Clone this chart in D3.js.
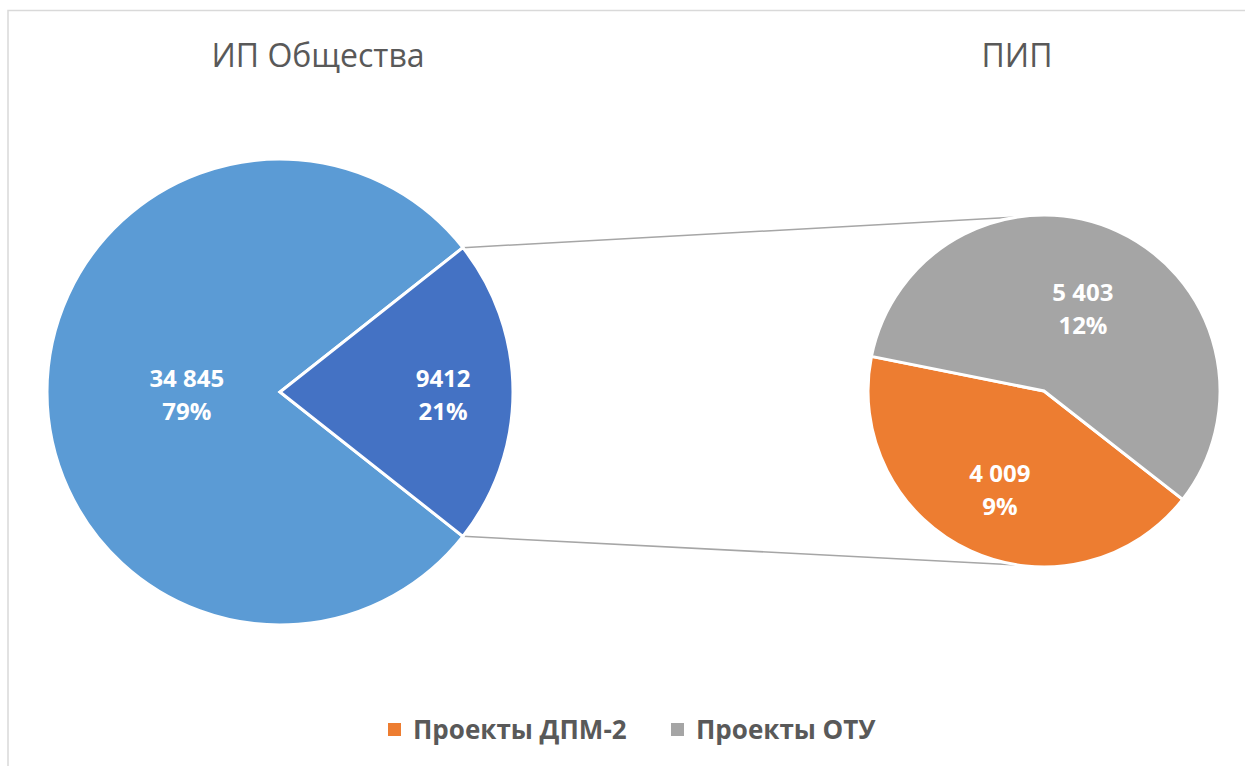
<!DOCTYPE html>
<html>
<head>
<meta charset="utf-8">
<script src="https://cdn.jsdelivr.net/npm/d3@7"></script>
<style>
  body { margin: 0; background: #fff; }
  svg { display: block; font-family: "Open Sans", sans-serif; }
</style>
</head>
<body>
<div id="chart"></div>
<script>
// main pie: other investments vs the part broken out into the second pie
var mainLabels = ["ИП Общества (прочее)", "ПИП"];
var mainValues = [34845, 9412];
var mainText = ["34 845", "9412"];
var mainPct = ["79%", "21%"];
var mainColors = ["#5B9BD5", "#4472C4"];

// second pie
var subLabels = ["Проекты ДПМ-2", "Проекты ОТУ"];
var subValues = [4009, 5403];
var subText = ["4 009", "5 403"];
var subPct = ["9%", "12%"];
var subColors = ["#ED7D31", "#A5A5A5"];

var titles = ["ИП Общества", "ПИП"];

var width = 1245, height = 766;
var deg = Math.PI / 180;

var svg = d3.select("#chart").append("svg")
  .attr("width", width)
  .attr("height", height);

// chart frame (right and bottom edges fall outside the picture)
svg.append("rect")
  .attr("x", 8).attr("y", 10.5)
  .attr("width", width + 10).attr("height", height + 10)
  .attr("fill", "none")
  .attr("stroke", "#d9d9d9")
  .attr("stroke-width", 1.5);

var left = { cx: 280, cy: 392, r: 233 };
var right = { cx: 1044, cy: 391, r: 176 };

// the broken-out slice is centred on the right side
var mainTotal = d3.sum(mainValues);
var smallSpan = mainValues[1] / mainTotal * 2 * Math.PI;
var mainPie = d3.pie().sort(null)
  .startAngle(Math.PI / 2 + smallSpan / 2)
  .endAngle(Math.PI / 2 + smallSpan / 2 + 2 * Math.PI);

var subPie = d3.pie().sort(null)
  .startAngle(128 * deg)
  .endAngle(128 * deg + 2 * Math.PI);

function drawPie(values, colors, texts, pcts, geo, labelFrac, pie) {
  var g = svg.append("g")
    .attr("transform", "translate(" + geo.cx + "," + geo.cy + ")");
  var arc = d3.arc().innerRadius(0).outerRadius(geo.r);
  var arcs = pie(values);

  g.selectAll("path")
    .data(arcs)
    .join("path")
    .attr("d", arc)
    .attr("fill", (d, i) => colors[i])
    .attr("stroke", "#fff")
    .attr("stroke-width", 3)
    .attr("stroke-linejoin", "miter");

  var labels = g.selectAll("text.lbl")
    .data(arcs)
    .join("text")
    .attr("class", "lbl")
    .attr("text-anchor", "middle")
    .attr("fill", "#fff")
    .style("font-size", "24px")
    .style("font-weight", "bold")
    .attr("transform", function (d, i) {
      var a = (d.startAngle + d.endAngle) / 2;
      var rr = geo.r * labelFrac[i];
      return "translate(" + (Math.sin(a) * rr) + "," + (-Math.cos(a) * rr) + ")";
    });
  labels.append("tspan").attr("x", 0).attr("dy", "-0.22em").text((d, i) => texts[i]);
  labels.append("tspan").attr("x", 0).attr("dy", "1.38em").text((d, i) => pcts[i]);
  return arcs;
}

// connector lines first so the pies sit on top
var a0 = Math.PI / 2 - smallSpan / 2;
var a1 = Math.PI / 2 + smallSpan / 2;
var connTop = -8.8 * deg, connBot = 180 + 8.8;
var conns = [
  [[left.cx + Math.sin(a0) * left.r, left.cy - Math.cos(a0) * left.r],
   [right.cx + Math.sin(connTop) * right.r, right.cy - Math.cos(connTop) * right.r]],
  [[left.cx + Math.sin(a1) * left.r, left.cy - Math.cos(a1) * left.r],
   [right.cx + Math.sin(connBot * deg) * right.r, right.cy - Math.cos(connBot * deg) * right.r]]
];
svg.selectAll("line.conn")
  .data(conns)
  .join("line")
  .attr("class", "conn")
  .attr("x1", d => d[0][0]).attr("y1", d => d[0][1])
  .attr("x2", d => d[1][0]).attr("y2", d => d[1][1])
  .attr("stroke", "#a6a6a6")
  .attr("stroke-width", 1.5);

drawPie(mainValues, mainColors, mainText, mainPct, left, [0.4, 0.7], mainPie);
drawPie(subValues, subColors, subText, subPct, right, [0.6, 0.53], subPie);

// titles
svg.selectAll("text.title")
  .data(titles)
  .join("text")
  .attr("class", "title")
  .attr("x", (d, i) => i === 0 ? 318 : 1017)
  .attr("y", 67)
  .attr("text-anchor", "middle")
  .attr("fill", "#595959")
  .style("font-size", "32px")
  .text(d => d);

// legend
var legend = svg.append("g").attr("class", "legend");
var legendX = [388, 671];
subLabels.forEach(function (name, i) {
  legend.append("rect")
    .attr("x", legendX[i]).attr("y", 723)
    .attr("width", 13).attr("height", 13)
    .attr("fill", subColors[i]);
  legend.append("text")
    .attr("x", legendX[i] + 25).attr("y", 739)
    .attr("fill", "#595959")
    .style("font-size", "26px")
    .style("font-weight", "bold")
    .text(name);
});
</script>
</body>
</html>
